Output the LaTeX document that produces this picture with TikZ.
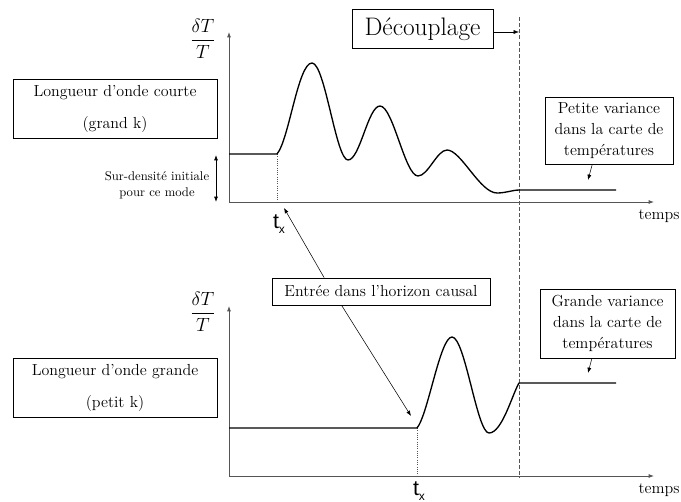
\documentclass[tikz,border=0pt]{standalone}
\usepackage{fontspec}
\newfontfamily\sansx{Liberation Sans}
\usepackage{amsmath}
\usetikzlibrary{arrows.meta,calc}
\definecolor{axc}{HTML}{555555}
\tikzset{
  >={Latex[length=4pt,width=3pt]},
  lbox/.style={draw=black,line width=0.6pt,fill=white,align=center,inner sep=2pt,font=\fontsize{12}{15.75}\selectfont},
  axis/.style={->,draw=axc,line width=0.7pt},
  curve/.style={line width=1pt,draw=black},
  guide/.style={draw=axc,line width=0.7pt,densely dotted},
  dec/.style={draw=axc,line width=0.7pt,dash pattern=on 3pt off 1.6pt},
  ptr/.style={->,line width=0.4pt,draw=black},
  axlab/.style={font=\fontsize{12}{14}\selectfont,inner sep=0pt},
  txlab/.style={font=\fontsize{16}{18}\sansx,inner sep=0pt},
  fraclab/.style={font=\fontsize{14}{16}\selectfont,inner sep=0pt},
}
\begin{document}
\begin{tikzpicture}[x=0.75pt,y=-0.75pt]
  \useasboundingbox (0,0) rectangle (681,502);
  \coordinate (o1) at (229,202);
  \coordinate (o2) at (229,476);
  \draw[axis] (o1) -- (229,32);
  \draw[axis] (o1) -- (654,202);
  \draw[axis] (o2) -- (229,306);
  \draw[axis] (o2) -- (654,476);
  \node[fraclab] (dtt1) at (203,39) {$\dfrac{\delta T}{T}$};
  \node[fraclab] (dtt2) at (203,312) {$\dfrac{\delta T}{T}$};
  \node[axlab] (temps1) at (659,216) {temps};
  \node[axlab] (temps2) at (659,490) {temps};
  \node[txlab] (tx1) at (279,224) {t\raisebox{-0.4ex}{\fontsize{9}{9}\selectfont x}};
  \node[txlab] (tx2) at (419,491) {t\raisebox{-0.4ex}{\fontsize{9}{9}\selectfont x}};
  \draw[guide] (277,154) -- (277,202);
  \draw[guide] (417,428) -- (417,476);
  \draw[dec] (519,17) -- (519,478);
  \draw[curve] (229,154) -- (277,154) .. controls (289,140) and (298,63) .. (312,63)
    .. controls (325,63) and (336,160) .. (348,160)
    .. controls (360,160) and (368,106) .. (380,106)
    .. controls (393,106) and (405,176) .. (418,176)
    .. controls (428,176) and (437,150) .. (447,150)
    .. controls (461,150) and (480,193) .. (497,193)
    .. controls (506,193) and (512,190) .. (520,190) -- (616,190);
  \draw[curve] (229,428) -- (417,428) .. controls (428,415) and (440,337) .. (452,337)
    .. controls (465,337) and (477,433) .. (489,433)
    .. controls (502,433) and (512,395) .. (519,383) -- (616,383);
  \node[lbox,minimum width=153pt,minimum height=44.25pt,font=\fontsize{12}{24}\selectfont] (courte) at (115,108.5) {Longueur d'onde courte\\(grand k)};
  \node[lbox,minimum width=153pt,minimum height=44.25pt,font=\fontsize{12}{24}\selectfont] (grande) at (115,387.5) {Longueur d'onde grande\\(petit k)};
  \node[lbox,minimum width=96pt,minimum height=50.25pt] (petite) at (609,130.5) {Petite variance\\dans la carte de\\températures};
  \node[lbox,minimum width=101.25pt,minimum height=51.75pt] (granvar) at (607.5,323.5) {Grande variance\\dans la carte de\\températures};
  \node[lbox,minimum width=163.5pt,minimum height=20.25pt] (entree) at (381,291.5) {Entrée dans l'horizon causal};
  \node[lbox,minimum width=105.75pt,minimum height=29.25pt,font=\fontsize{19}{22}\selectfont] (decoupl) at (422.5,29) {Découplage};
  \node[align=center,font=\fontsize{9.5}{12}\selectfont,inner sep=0pt] (surdens) at (157,185) {Sur-densité initiale\\pour ce mode};
  \coordinate (sd1) at (216,155);
  \coordinate (sd2) at (216,202);
  \draw[<->,line width=0.6pt] (sd1) -- (sd2);
  \coordinate (decl) at (519,32);
  \draw[ptr] (decoupl.east |- decl) -- (decl);
  \coordinate (tip1) at (284,208);
  \coordinate (tip2) at (411,416);
  \draw[ptr] ($(entree.north west)!0.24!(entree.north east)$) -- (tip1);
  \draw[ptr] ($(entree.south west)!0.32!(entree.south east)$) -- (tip2);
  \coordinate (ptip) at (588,180);
  \coordinate (gtip) at (588,373);
  \draw[ptr] ($(petite.south west)!0.37!(petite.south east)$) -- (ptip);
  \draw[ptr] ($(granvar.south west)!0.385!(granvar.south east)$) -- (gtip);
\end{tikzpicture}
\end{document}
